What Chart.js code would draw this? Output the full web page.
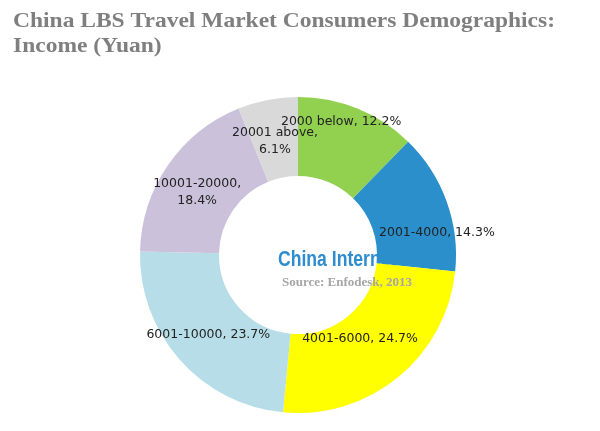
<!DOCTYPE html>
<html>
<head>
<meta charset="utf-8">
<script src="https://cdn.jsdelivr.net/npm/chart.js@4"></script>
<style>
  html, body { margin: 0; padding: 0; background: #fff; }
  #wrap { width: 600px; height: 431px; }
</style>
</head>
<body>
<div id="wrap"><canvas id="chart" width="600" height="431"></canvas></div>
<script>
'use strict';

var categories = ['2000 below', '2001-4000', '4001-6000', '6001-10000', '10001-20000', '20001 above'];
var shares = [12.2, 14.3, 24.7, 23.7, 18.4, 6.1];
var colors = ['#92D050', '#2A8FCB', '#FFFF00', '#B7DEE8', '#CCC1DA', '#D9D9D9'];
var titleLines = ['China LBS Travel Market Consumers Demographics:', 'Income (Yuan)'];
var sourceText = 'Source: Enfodesk, 2013';
var watermarkText = 'China Internet Watch';

//
// Labels that Excel split onto two lines, and small nudges (px) where the
// original labels were moved away from the slice centre.
//
var wrapped = { 4: true, 5: true };
var nudge = { 0: [-2, -22], 1: [26, 19], 2: [-14, -9], 4: [-2, 5], 5: [0, 4] };

var overlay = {
  id: 'overlay',
  beforeDatasetsDraw: function (chart) {
    var ctx = chart.ctx, arc = chart.getDatasetMeta(0).data[0];

    //
    // Watermark sits under the ring, so the slices hide its tail.
    //
    ctx.save();
    ctx.beginPath();
    ctx.arc(arc.x, arc.y, arc.outerRadius, 0, Math.PI * 2);
    ctx.clip();
    ctx.translate(arc.x - 20, arc.y + 5);
    ctx.scale(0.8, 1);
    ctx.font = 'bold 22px "Liberation Sans", Arial, sans-serif';
    ctx.fillStyle = '#2D8DCF';
    ctx.textAlign = 'left';
    ctx.textBaseline = 'middle';
    ctx.fillText(watermarkText, 0, 0);
    ctx.restore();
  },
  afterDraw: function (chart) {
    var ctx = chart.ctx, meta = chart.getDatasetMeta(0), center = meta.data[0];
    ctx.save();

    //
    // Title, stretched to the width of the original heading.
    //
    ctx.font = 'bold 21px "Liberation Serif", Georgia, serif';
    ctx.fillStyle = '#7F7F7F';
    ctx.textAlign = 'left';
    ctx.textBaseline = 'alphabetic';
    var sx = 542 / ctx.measureText(titleLines[0]).width;
    ctx.save();
    ctx.translate(13, 0);
    ctx.scale(sx, 1);
    ctx.fillText(titleLines[0], 0, 27);
    ctx.fillText(titleLines[1], 0, 52);
    ctx.restore();

    // source
    ctx.font = 'bold 13px "Liberation Serif", Georgia, serif';
    ctx.fillStyle = '#A6A6A6';
    ctx.textAlign = 'center';
    ctx.textBaseline = 'middle';
    ctx.fillText(sourceText, center.x + 49, center.y + 28);

    // slice labels
    ctx.font = '12.5px "DejaVu Sans", sans-serif';
    ctx.fillStyle = '#222222';
    meta.data.forEach(function (a, i) {
      var mid = (a.startAngle + a.endAngle) / 2;
      var r = a.outerRadius * 0.76;
      var x = a.x + Math.cos(mid) * r, y = a.y + Math.sin(mid) * r;
      var d = nudge[i] || [0, 0];
      x += d[0]; y += d[1];
      var label = categories[i] + ',', pct = shares[i].toFixed(1) + '%';
      if (wrapped[i]) {
        ctx.fillText(label, x, y - 8);
        ctx.fillText(pct, x, y + 9);
      } else {
        ctx.fillText(label + ' ' + pct, x, y);
      }
    });
    ctx.restore();
  }
};

new Chart(document.getElementById('chart'), {
  type: 'doughnut',
  data: {
    labels: categories,
    datasets: [{
      data: shares,
      backgroundColor: colors,
      borderWidth: 0
    }]
  },
  options: {
    responsive: false,
    animation: false,
    cutout: '50%',
    layout: { padding: { top: 97, bottom: 18, left: 140, right: 144 } },
    plugins: {
      legend: { display: false },
      tooltip: { enabled: false },
      title: { display: false }
    }
  },
  plugins: [overlay]
});
</script>
</body>
</html>
